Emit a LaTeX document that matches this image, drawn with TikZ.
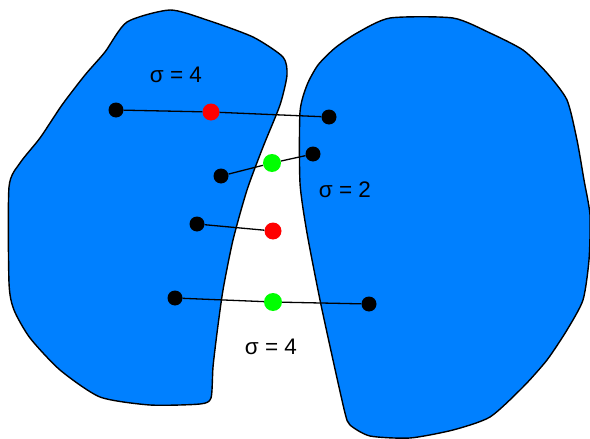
\documentclass[tikz,border=0pt]{standalone}
\usepackage{fontspec}
\setmainfont{Liberation Sans}
\definecolor{blobblue}{RGB}{0,128,255}
\definecolor{ptred}{RGB}{255,0,0}
\definecolor{ptgreen}{RGB}{0,255,0}
\begin{document}
\begin{tikzpicture}[x=1pt,y=-1pt,
  blob/.style={fill=blobblue,draw=black,line width=1.4pt},
  bdot/.style={circle,fill=black,inner sep=0pt,minimum size=15pt},
  rdot/.style={circle,fill=ptred,inner sep=0pt,minimum size=17pt},
  gdot/.style={circle,fill=ptgreen,inner sep=0pt,minimum size=18pt},
  link/.style={draw=black,line width=1.3pt},
  lab/.style={font=\fontsize{22.5}{26}\selectfont}]
\useasboundingbox (0,0) rectangle (590,439);
% left blob
\draw[blob] plot[smooth cycle,tension=0.4] coordinates {
  (170,10) (207,20) (253,37) (283,57) (287,75) (280,105) (263,147)
  (247,190) (233,240) (223,290) (217,333) (213,367) (211,398) (200,404)
  (150,405) (100,397) (60,370) (30,338) (14,310) (9,283) (9,187)
  (20,163) (40,138) (62,105) (85,75) (105,52) (127,22)};
% right blob
\draw[blob] plot[smooth cycle,tension=0.4] coordinates {
  (390,18) (453,18) (490,33) (523,50) (547,73) (567,100) (577,140)
  (584,180) (590,215) (589,260) (583,300) (567,330) (547,360)
  (523,387) (490,417) (453,430) (410,438) (370,436) (350,425) (345,413)
  (333,360) (320,300) (307,233) (300,183) (300,112) (307,85)
  (318,65) (335,48) (357,33)};
% points
\node[bdot] (b1) at (116,110) {};
\node[rdot] (r1) at (211,112) {};
\node[bdot] (b2) at (329,117) {};
\node[bdot] (b3) at (221,176) {};
\node[gdot] (g1) at (272,163) {};
\node[bdot] (b4) at (313,154) {};
\node[bdot] (b5) at (197,224) {};
\node[rdot] (r2) at (273,231) {};
\node[bdot] (b6) at (175,298) {};
\node[gdot] (g2) at (273,302) {};
\node[bdot] (b7) at (369,304) {};
% links
\path[link] (b1) -- (r1) -- (b2);
\path[link] (b3) -- (g1) -- (b4);
\path[link] (b5) -- (r2);
\path[link] (b6) -- (g2) -- (b7);
% labels
\node[lab] (s1) at (176,75) {σ = 4};
\node[lab] (s2) at (345,190) {σ = 2};
\node[lab] (s3) at (271,347) {σ = 4};
\end{tikzpicture}
\end{document}
